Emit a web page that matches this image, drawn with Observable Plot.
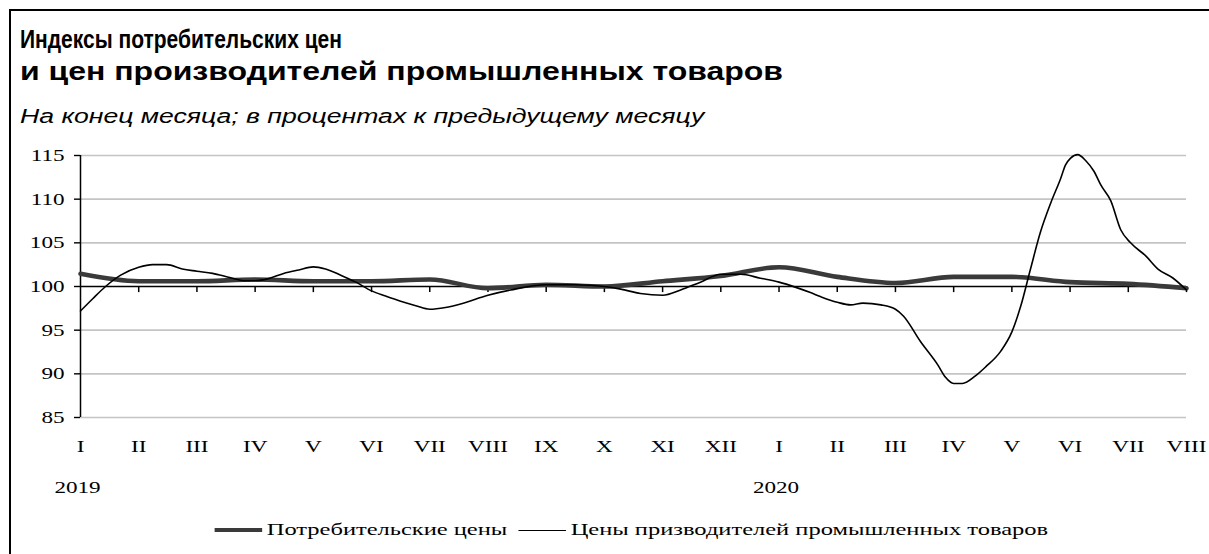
<!DOCTYPE html>
<html><head><meta charset="utf-8">
<script src="https://cdn.jsdelivr.net/npm/d3@7"></script>
<script src="https://cdn.jsdelivr.net/npm/@observablehq/plot@0.6"></script>
<style>
html,body{margin:0;padding:0;background:#fff;}
body{width:1209px;height:554px;overflow:hidden;position:relative;font-family:"Liberation Sans",Arial,sans-serif;}
#frame{position:absolute;left:9px;top:9px;width:1300px;height:700px;border-top:2px solid #000;border-left:2px solid #000;pointer-events:none;}
.tl{position:absolute;left:20px;font-weight:bold;font-size:25px;line-height:32px;color:#000;white-space:nowrap;transform-origin:0 0;}
#t1{top:23px;transform:scaleX(0.84);}
#t2{top:55px;transform:scaleX(1.28);}
#sub{position:absolute;left:20px;top:104px;font-style:italic;font-size:20px;line-height:24px;color:#000;white-space:nowrap;transform:scaleX(1.33);transform-origin:0 0;}
#chart{position:absolute;left:0;top:140px;}
#legend{position:absolute;left:0;top:514px;width:1209px;height:32px;display:flex;justify-content:center;align-items:center;font-family:"Liberation Serif","Times New Roman",serif;font-size:17px;color:#000;white-space:nowrap;transform:translateX(27px) scaleX(1.44);transform-origin:50% 50%;}
.sw{display:inline-block;width:33px;margin-right:3px;vertical-align:middle;}
.item{display:flex;align-items:center;margin:0 4px;}
</style>
</head><body>
<div id="frame"></div>
<div class="tl" id="t1">Индексы потребительских цен</div>
<div class="tl" id="t2">и цен производителей промышленных товаров</div>
<div id="sub">На конец месяца; в процентах к предыдущему месяцу</div>
<div id="chart"></div>
<div id="legend"></div>
<script>
// Month labels (Jan 2019 .. Aug 2020)
const months = ["I","II","III","IV","V","VI","VII","VIII","IX","X","XI","XII",
                "I","II","III","IV","V","VI","VII","VIII"];
const years = ["2019","2020"];
const yearAt = [0, 12];
const yTicks = [85, 90, 95, 100, 105, 110, 115];
const seriesNames = ["Потребительские цены", "Цены призводителей промышленных товаров"];

// Consumer price index, % to previous month (monthly)
const cpi = [101.45, 100.6, 100.6, 100.8, 100.6, 100.6, 100.8, 99.8, 100.2, 100.0, 100.6, 101.2,
             102.2, 101.1, 100.4, 101.1, 101.1, 100.5, 100.3, 99.8];

// Producer price index of industrial goods (read at finer points along time, in months since Jan 2019)
const ppiT = [0, 0.21, 0.43, 0.69, 1.0, 1.24, 1.48, 1.75, 2.0, 2.27, 2.58, 2.84, 3.0, 3.23, 3.49, 3.75,
              4.0, 4.21, 4.47, 4.73, 5.0, 5.24, 5.5, 5.76, 6.0, 6.27, 6.53, 7.0, 7.39, 8.0, 8.51, 9.0,
              9.28, 9.62, 10.0, 10.31, 10.65, 11.0, 11.34, 11.68, 12.0, 12.29, 12.54, 12.71, 13.0, 13.23,
              13.44, 13.75, 14.0, 14.14, 14.43, 14.73, 14.86, 15.0, 15.15, 15.38, 15.55, 15.81, 16.0,
              16.15, 16.32, 16.49, 16.67, 16.84, 16.92, 17.01, 17.13, 17.27, 17.41, 17.53, 17.7, 17.87,
              18.04, 18.3, 18.51, 18.76, 19.0];
const ppiV = [97.2, 98.6, 100.0, 101.3, 102.2, 102.5, 102.5, 102.0, 101.75, 101.5, 101.0, 100.65, 100.65, 100.9, 101.5, 101.9,
              102.25, 102.0, 101.3, 100.5, 99.5, 98.9, 98.3, 97.8, 97.4, 97.6, 98.0, 99.0, 99.6, 100.2, 100.2, 100.0,
              99.7, 99.2, 99.0, 99.6, 100.5, 101.4, 101.4, 100.95, 100.5, 99.9, 99.3, 98.85, 98.2, 97.9,
              98.1, 97.9, 97.4, 96.6, 93.7, 91.0, 89.6, 88.9, 88.9, 89.8, 90.8, 92.6, 94.8,
              97.7, 102.0, 106.2, 109.6, 112.4, 113.9, 114.7, 115.1, 114.4, 113.2, 111.6, 109.8, 106.5,
              105.0, 103.5, 102.0, 101.0, 99.6];

const cpiData = cpi.map((v, i) => ({t: i, v}));
const ppiData = ppiT.map((t, i) => ({t, v: ppiV[i]}));
const idx = months.map((m, i) => i);

const serif = "'Liberation Serif','Times New Roman',serif";

const chart = Plot.plot({
  width: 1209,
  height: 370,
  marginTop: 15,
  marginLeft: 80,
  marginRight: 23,
  marginBottom: 93,
  style: {fontFamily: serif, fontSize: "17px", color: "#000", background: "transparent"},
  x: {domain: [0, 19], axis: null},
  y: {domain: [85, 115], axis: null},
  marks: [
    Plot.ruleY(yTicks.filter(d => d !== 100), {stroke: "#c4c4c4", strokeWidth: 1.6}),
    Plot.axisY(yTicks, {anchor: "left", label: null, tickSize: 6, tickPadding: 10, stroke: "#000", strokeWidth: 1.4,
      fontSize: 17, fontFamily: serif, tickFormat: d => String(d)}),
    Plot.ruleX([0], {y1: 85, y2: 115, stroke: "#000", strokeWidth: 1.5}),
    Plot.ruleY([100], {stroke: "#000", strokeWidth: 1.5}),
    Plot.ruleX(idx.slice(1), {x: d => d, y1: 100, y2: 99.3, stroke: "#000", strokeWidth: 1.5}),
    Plot.axisX(idx, {anchor: "bottom", label: null, tickSize: 0, tickPadding: 22, fontSize: 17, fontFamily: serif,
      tickFormat: i => months[i]}),
    Plot.text(yearAt, {x: d => d, frameAnchor: "bottom", dy: 75, dx: -3, text: (d, i) => years[i],
      fontSize: 17, fontFamily: serif, fill: "#000"}),
    Plot.line(cpiData, {x: "t", y: "v", stroke: "#3a3a3a", strokeWidth: 4.6, curve: "monotone-x"}),
    Plot.line(ppiData, {x: "t", y: "v", stroke: "#000", strokeWidth: 1.6, curve: "monotone-x"})
  ]
});
document.getElementById("chart").appendChild(chart);

// Stretch the serif text horizontally, like the reference's wide Times-style glyphs
const SX = 1.36;
chart.querySelectorAll("text").forEach(el => {
  const t = el.getAttribute("transform");
  if (t && /translate/.test(t)) {
    el.setAttribute("transform", `${t} scale(${SX},1)`);
  }
});

// Legend
const leg = document.getElementById("legend");
const styles = [{c: "#3a3a3a", w: 4.6}, {c: "#000", w: 1.6}];
seriesNames.forEach((name, i) => {
  const item = document.createElement("span");
  item.className = "item";
  const sw = document.createElement("span");
  sw.className = "sw";
  sw.style.borderTop = styles[i].w + "px solid " + styles[i].c;
  item.appendChild(sw);
  const tx = document.createElement("span");
  tx.textContent = name;
  item.appendChild(tx);
  leg.appendChild(item);
});
</script>
</body></html>
